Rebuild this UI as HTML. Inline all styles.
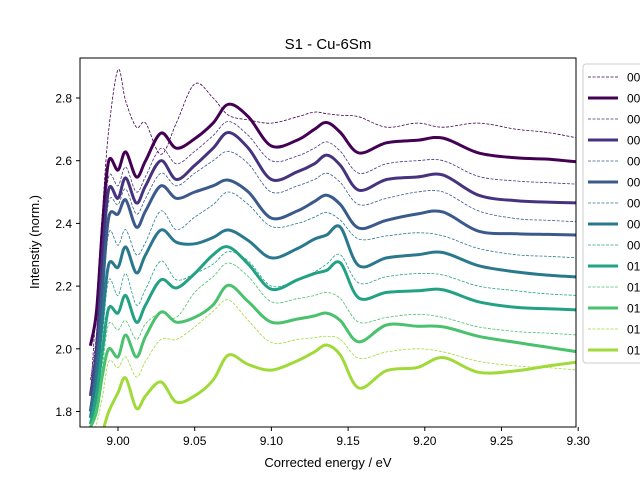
<!DOCTYPE html>
<html><head><meta charset="utf-8"><style>
body{margin:0;background:#fff;}
svg{font-family:"Liberation Sans","DejaVu Sans",sans-serif;}
</style></head><body>
<svg id="chart" width="640" height="480" viewBox="0 0 640 480">
<defs><clipPath id="clip"><rect x="80" y="58" width="496" height="369"/></clipPath></defs>
<rect width="640" height="480" fill="#fff"/>
<text x="328" y="49" text-anchor="middle" font-size="15">S1 - Cu-6Sm</text>
<g id="plot" clip-path="url(#clip)"></g>
<rect x="80" y="58" width="496" height="369" fill="none" stroke="#000" stroke-width="1"/>
<g id="xticks"></g>
<g id="yticks"></g>
<text x="328" y="467" text-anchor="middle" font-size="13">Corrected energy / eV</text>
<text transform="translate(39,242) rotate(-90)" text-anchor="middle" font-size="13">Intenstiy (norm.)</text>
<g id="legend"></g>
</svg>
<script>
const energies=[8.982,8.986,8.99,8.994,9.0,9.005,9.012,9.018,9.028,9.038,9.05,9.062,9.072,9.085,9.1,9.117,9.128,9.136,9.145,9.157,9.175,9.195,9.212,9.235,9.26,9.28,9.3];
const thin0=[1.85,2.15,2.45,2.70,2.89,2.79,2.707,2.72,2.62,2.72,2.845,2.80,2.745,2.73,2.72,2.74,2.755,2.75,2.745,2.74,2.707,2.72,2.707,2.72,2.70,2.69,2.672];
const thick0=[2.01,2.12,2.40,2.60,2.57,2.628,2.548,2.60,2.688,2.64,2.67,2.72,2.78,2.74,2.647,2.666,2.70,2.722,2.69,2.625,2.657,2.665,2.672,2.625,2.609,2.605,2.596];
const thin1=[1.9,2.05,2.35,2.55,2.52,2.58,2.50,2.55,2.64,2.59,2.63,2.68,2.725,2.68,2.60,2.615,2.64,2.66,2.63,2.56,2.59,2.60,2.60,2.55,2.535,2.53,2.525];
const thick1=[1.85,2.0,2.3,2.51,2.48,2.545,2.465,2.52,2.60,2.54,2.585,2.64,2.69,2.64,2.54,2.565,2.59,2.618,2.585,2.506,2.54,2.548,2.554,2.49,2.472,2.468,2.465];
const thin2=[1.85,2.0,2.25,2.47,2.46,2.51,2.43,2.48,2.56,2.52,2.56,2.60,2.63,2.59,2.50,2.52,2.54,2.56,2.53,2.46,2.48,2.50,2.50,2.44,2.415,2.41,2.405];
const thick2=[1.8,1.95,2.2,2.42,2.43,2.475,2.388,2.44,2.52,2.48,2.50,2.52,2.538,2.50,2.417,2.44,2.47,2.49,2.46,2.385,2.41,2.43,2.436,2.375,2.367,2.365,2.363];
const thin3=[1.8,1.95,2.15,2.37,2.33,2.38,2.30,2.34,2.44,2.38,2.42,2.46,2.50,2.46,2.39,2.40,2.42,2.435,2.41,2.35,2.36,2.37,2.36,2.32,2.30,2.295,2.29];
const thick3=[1.78,1.9,2.1,2.27,2.26,2.325,2.242,2.30,2.379,2.34,2.335,2.355,2.379,2.345,2.29,2.32,2.35,2.363,2.388,2.265,2.29,2.30,2.307,2.265,2.245,2.235,2.229];
const thin4=[1.78,1.88,2.05,2.22,2.17,2.24,2.14,2.19,2.28,2.22,2.24,2.27,2.31,2.28,2.20,2.22,2.245,2.27,2.30,2.21,2.23,2.24,2.235,2.20,2.185,2.175,2.17];
const thick4=[1.76,1.85,2.0,2.13,2.114,2.17,2.085,2.14,2.22,2.194,2.24,2.30,2.325,2.27,2.19,2.22,2.24,2.25,2.274,2.162,2.18,2.185,2.188,2.15,2.132,2.128,2.124];
const thin5=[1.74,1.80,1.95,2.08,2.06,2.09,2.03,2.08,2.114,2.10,2.18,2.23,2.274,2.23,2.15,2.16,2.17,2.18,2.16,2.085,2.10,2.11,2.10,2.07,2.055,2.05,2.044];
const thick5=[1.75,1.80,1.92,2.0,1.974,2.044,1.974,2.04,2.117,2.085,2.10,2.14,2.203,2.15,2.085,2.095,2.105,2.114,2.09,2.022,2.076,2.072,2.07,2.04,2.02,2.005,1.99];
const thin6=[1.72,1.76,1.85,1.96,1.94,1.974,1.91,1.96,2.03,2.03,2.07,2.12,2.156,2.09,2.02,2.03,2.035,2.04,2.03,1.97,1.99,2.0,1.99,1.96,1.945,1.94,1.932];
const thick6=[1.70,1.72,1.74,1.80,1.86,1.907,1.81,1.85,1.894,1.83,1.85,1.90,1.98,1.95,1.932,1.962,1.99,2.012,1.98,1.875,1.93,1.94,1.972,1.925,1.93,1.945,1.958];
const seriesValues=[thin0,thick0,thin1,thick1,thin2,thick2,thin3,thick3,thin4,thick4,thin5,thick5,thin6,thick6];
const legendLabels=["00","00","00","00","00","00","00","00","00","01","01","01","01","01"];
const palette=["#440154","#46337f","#3b5a8c","#2a788e","#22a184","#4ac16d","#a0da39"];
const xTicks=[9.00,9.05,9.10,9.15,9.20,9.25,9.30];
const yTicks=[1.8,2.0,2.2,2.4,2.6,2.8];

const NS="http://www.w3.org/2000/svg";
function xs(e){return 118+(e-9.0)*1534;}
function ysc(v){return 98+(2.8-v)/0.2*62.7;}
function smoothPath(pts){
  let d='M'+pts[0][0].toFixed(1)+','+pts[0][1].toFixed(1);
  for(let i=0;i<pts.length-1;i++){
    const p0=pts[Math.max(i-1,0)],p1=pts[i],p2=pts[i+1],p3=pts[Math.min(i+2,pts.length-1)];
    const c1x=p1[0]+(p2[0]-p0[0])/6,c1y=p1[1]+(p2[1]-p0[1])/6;
    const c2x=p2[0]-(p3[0]-p1[0])/6,c2y=p2[1]-(p3[1]-p1[1])/6;
    d+=' C'+c1x.toFixed(1)+','+c1y.toFixed(1)+' '+c2x.toFixed(1)+','+c2y.toFixed(1)+' '+p2[0].toFixed(1)+','+p2[1].toFixed(1);
  }
  return d;
}
const plot=document.getElementById('plot');
seriesValues.forEach(function(vals,i){
  const p=document.createElementNS(NS,'path');
  p.setAttribute('d',smoothPath(vals.map(function(v,j){return [xs(energies[j]),ysc(v)];})));
  const thick=i%2===1;
  p.setAttribute('fill','none');
  p.setAttribute('stroke',palette[Math.floor(i/2)]);
  p.setAttribute('stroke-width',thick?3:0.8);
  p.setAttribute('stroke-linejoin','round');
  if(!thick)p.setAttribute('stroke-dasharray','3,1.5');
  
  
  plot.appendChild(p);
});
const xg=document.getElementById('xticks');
xTicks.forEach(function(t){
  const x=xs(t);
  const l=document.createElementNS(NS,'line');
  l.setAttribute('x1',x);l.setAttribute('x2',x);l.setAttribute('y1',427);l.setAttribute('y2',431);l.setAttribute('stroke','#000');
  
  
  xg.appendChild(l);
  const tx=document.createElementNS(NS,'text');
  tx.setAttribute('x',x);tx.setAttribute('y',445);tx.setAttribute('text-anchor','middle');tx.setAttribute('font-size','12');
  tx.textContent=t.toFixed(2);
  
  
  xg.appendChild(tx);
});
const yg=document.getElementById('yticks');
yTicks.forEach(function(t){
  const y=ysc(t);
  const l=document.createElementNS(NS,'line');
  l.setAttribute('x1',76);l.setAttribute('x2',80);l.setAttribute('y1',y);l.setAttribute('y2',y);l.setAttribute('stroke','#000');
  
  
  yg.appendChild(l);
  const tx=document.createElementNS(NS,'text');
  tx.setAttribute('x',72);tx.setAttribute('y',y+4.5);tx.setAttribute('text-anchor','end');tx.setAttribute('font-size','12');
  tx.textContent=t.toFixed(1);
  
  
  yg.appendChild(tx);
});
const lg=document.getElementById('legend');
const box=document.createElementNS(NS,'rect');
box.setAttribute('x',583);box.setAttribute('y',64);box.setAttribute('width',70);box.setAttribute('height',299);box.setAttribute('rx',3);
box.setAttribute('fill','#fff');box.setAttribute('stroke','#ccc');


lg.appendChild(box);
legendLabels.forEach(function(lab,i){
  const y=77+i*21;
  const thick=i%2===1;
  const l=document.createElementNS(NS,'line');
  l.setAttribute('x1',588);l.setAttribute('x2',618);l.setAttribute('y1',y);l.setAttribute('y2',y);
  l.setAttribute('stroke',palette[Math.floor(i/2)]);l.setAttribute('stroke-width',thick?3:0.8);
  if(!thick)l.setAttribute('stroke-dasharray','3,1.5');
  
  
  lg.appendChild(l);
  const tx=document.createElementNS(NS,'text');
  tx.setAttribute('x',627);tx.setAttribute('y',y+4.5);tx.setAttribute('font-size','12');
  tx.textContent=lab;
  
  
  lg.appendChild(tx);
});
</script>
</body></html>
